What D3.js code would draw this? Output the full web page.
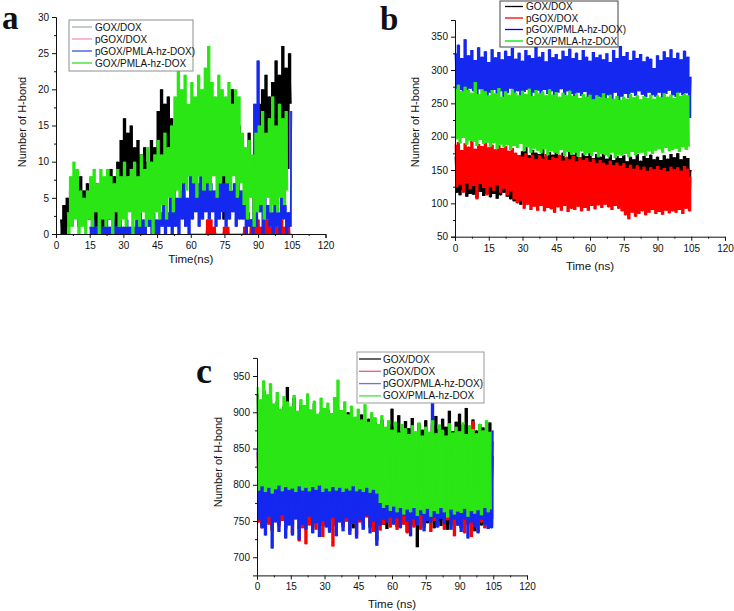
<!DOCTYPE html>
<html><head><meta charset="utf-8">
<script src="https://cdn.jsdelivr.net/npm/d3@7"></script>
<style>
body{margin:0;background:#fff;}
svg{display:block;font-family:"Liberation Sans",Arial,sans-serif;}
</style></head>
<body><svg id="chart" width="734" height="611"></svg>
<script>
// ---------------- DATA ----------------
const seriesNames = ["GOX/DOX", "pGOX/DOX", "pGOX/PMLA-hz-DOX)", "GOX/PMLA-hz-DOX"];
const xTickValues = [0, 15, 30, 45, 60, 75, 90, 105, 120];
const aYTicks = [0, 5, 10, 15, 20, 25, 30];
const bYTicks = [50, 100, 150, 200, 250, 300, 350];
const cYTicks = [700, 750, 800, 850, 900, 950];
const dt = 0.75; // ns between samples
// start times (ns) of each series in panel a: black, red, blue, green
const aStart = [2, 60, 15, 5];

// Panel a (alternating peak / trough samples)
const aBlack = [
 2,0,4,0,5,1,
 6,2,7,3,5,1,8,2,6,3,7,2,
 6,0,5,1,7,0,4,1,6,0,
 7,2,9,3,8,1,10,4,
 13,6,16,5,14,8,15,7,12,5,
 13,4,11,6,12,3,10,5,
 13,7,12,5,
 17,8,20,10,18,9,19,11,16,7,
 14,9,12,8,15,3,13,9,11,8,
 14,9,12,8,16,10,13,4,15,9,
 20,8,14,9,18,10,15,8,13,2,
 16,9,14,8,20,10,12,3,15,9,
 13,7,11,2,14,6,10,0,12,4,
 18,5,20,8,22,6,19,9,21,7,
 24,10,22,8,26,12,23,9,25,18];
const aRed = [
 0,0,0,0,0,0,0,0,0,0,
 2,0,2,0,1,0,0,0,0,0,
 1,0,1,0,0,0,0,0,0,0,
 0,0,1,0,0,0,2,0,1,0,
 2,0,1,0,2,0,2,0,1,0,
 2,0,1,0,2,0,1,0,2,0,0];
const aBlue = [
 1,0,2,0,1,0,2,0,1,0,
 2,0,1,0,2,0,1,0,2,0,
 1,0,2,0,1,0,1,0,2,0,
 3,0,2,0,3,1,2,0,3,0,
 2,0,3,1,4,0,3,1,6,0,
 7,1,5,0,6,2,7,1,5,0,
 10,2,8,3,7,1,8,2,6,3,
 8,2,7,3,6,1,8,2,7,3,
 7,1,8,2,6,3,7,1,8,2,
 6,2,4,0,3,1,2,0,18,1,
 24,3,14,0,5,2,4,1,3,0,
 5,1,3,0,6,2,4,0,3,1,17];
const aGreen = [
 3,0,8,1,10,2,9,0,
 6,1,5,0,6,2,
 8,1,9,3,7,0,9,2,8,1,
 9,2,8,0,7,3,9,1,8,2,
 10,1,8,3,9,0,10,2,8,1,
 11,3,9,1,12,2,10,0,11,3,
 13,2,11,4,14,2,12,5,15,3,
 19,6,23,5,20,7,22,6,18,8,
 21,7,19,5,22,8,20,6,23,7,
 26,6,21,8,19,5,22,7,20,8,
 19,7,21,6,18,8,20,5,19,7,
 14,4,12,2,13,5,11,1,14,3,
 15,4,17,2,14,5,16,3,19,4,
 15,3,18,5,16,4,17,6];

// Panel b
const bBlack = [
 170,116,165,112,172,120,168,110,174,114,
 166,113,171,108,169,117,175,111,167,114,
 170,109,164,114,173,107,168,112,171,116,
 166,110,170,106,163,103,168,101,172,98,
 178,132,185,138,172,130,180,135,176,128,
 174,133,181,129,170,136,177,131,173,127,
 179,134,171,129,176,137,168,130,182,133,
 173,128,177,135,169,131,175,126,171,134,
 176,130,168,127,174,133,170,125,178,131,
 167,129,173,132,165,126,171,130,168,124,
 172,128,163,122,170,131,166,120,174,127,
 164,125,171,118,168,130,173,124,166,132,
 170,133,165,128,172,135,167,130,174,137,
 169,131,175,136,166,129,171,134,168,140,150];
const bRed = [
 188,124,192,128,180,116,190,130,185,121,
 194,126,182,106,189,129,186,123,191,112,
 184,125,188,119,181,127,187,116,183,122,
 186,112,179,118,183,106,176,100,172,104,
 170,92,175,98,168,90,173,95,166,89,
 172,96,167,88,174,93,165,91,170,86,
 168,94,173,89,164,96,170,87,166,92,
 171,90,163,95,169,88,165,93,168,89,
 162,96,167,91,160,97,165,93,161,98,
 158,94,164,90,157,96,161,92,156,88,
 160,82,153,76,158,86,152,80,157,84,
 150,88,155,82,149,86,154,90,151,84,
 156,87,150,83,153,89,148,85,155,88,
 151,86,154,90,149,84,156,92,152,88,140];
const bBlue = [
 325,262,338,270,318,258,346,266,322,272,
 330,268,315,260,334,271,320,265,328,257,
 312,266,331,270,319,262,327,268,316,259,
 329,265,321,272,333,263,317,268,326,260,
 314,267,330,270,322,261,318,266,335,269,
 320,262,327,270,313,264,331,268,319,259,
 324,266,316,271,329,262,321,268,332,264,
 318,258,326,266,315,261,330,267,320,255,
 314,243,327,252,319,260,323,248,316,258,
 325,262,312,255,330,266,318,250,336,260,
 321,264,327,258,315,266,329,261,318,268,
 324,263,313,259,320,266,317,262,303,260,
 322,266,315,258,328,264,319,269,331,262,
 318,260,326,266,316,262,329,265,320,228,290];
const bGreen = [
 272,196,278,190,268,198,275,188,270,194,
 266,192,282,186,264,195,271,189,268,191,
 262,185,270,190,265,182,273,188,260,184,
 268,187,263,180,271,186,266,183,262,189,
 269,178,264,184,272,176,261,182,270,179,
 265,175,268,181,262,172,271,178,263,176,
 267,174,260,180,266,171,262,177,269,173,
 261,176,265,170,258,178,264,172,260,175,
 263,171,256,177,262,169,259,174,265,172,
 258,170,263,176,257,168,261,173,255,171,
 260,174,257,169,264,177,259,172,262,175,
 256,176,261,171,258,178,263,174,257,179,
 262,181,259,176,265,183,260,178,263,180,
 258,182,266,177,261,184,264,180,262,185];

// Panel c
const cBlack = [
 925,755,910,742,930,760,905,748,918,738,
 900,752,915,745,896,758,908,740,935,750,
 902,744,920,756,895,739,910,751,898,746,
 905,753,890,741,912,757,893,748,900,743,
 888,750,903,738,891,755,898,745,886,752,
 895,742,884,756,900,747,889,740,893,753,
 882,749,897,744,885,758,891,741,880,750,
 886,723,879,752,890,745,876,739,884,755,
 905,748,880,742,896,753,874,746,888,735,
 878,750,892,744,870,714,885,752,876,741,
 889,747,872,754,882,740,895,749,877,743,
 891,751,880,738,902,746,874,755,887,744,
 898,740,883,752,906,745,878,749,890,736,
 875,751,884,744,879,748,872,742,886,753,840];
const cRed = [
 845,748,830,740,852,758,838,745,847,736,
 833,755,849,742,836,750,844,738,831,747,
 850,733,839,756,846,722,834,740,851,718,
 837,744,843,751,832,738,848,755,835,728,
 846,745,833,752,849,715,838,743,842,754,
 836,741,850,749,831,736,845,753,839,730,
 844,748,835,739,851,755,832,744,847,735,
 838,752,846,737,833,745,849,756,836,741,
 843,748,831,738,850,754,837,745,845,733,
 839,750,848,741,834,756,842,738,830,747,
 847,752,836,735,885,750,840,742,833,755,
 846,738,838,751,851,744,835,729,843,753,
 837,740,849,733,832,746,845,728,888,752,
 841,735,836,748,850,740,834,752,846,745,860];
const cBlue = [
 850,752,835,740,858,730,842,756,848,712,
 838,748,852,735,830,758,846,726,840,744,
 855,730,832,752,848,724,836,745,851,738,
 843,756,829,733,847,747,835,728,853,750,
 839,741,850,734,833,755,845,729,837,748,
 852,736,841,754,834,731,849,746,838,726,
 844,751,831,738,848,757,836,733,842,749,
 835,716,846,744,833,752,840,748,829,755,
 845,745,838,754,850,740,834,757,848,749,
 842,729,835,752,851,744,839,758,846,736,
 833,750,840,748,915,755,836,741,849,753,
 841,746,832,756,845,738,837,752,850,744,
 838,735,847,752,834,726,843,748,836,741,
 849,733,840,752,834,745,846,739,843,740,875];
const cGreen = [
 935,792,918,798,944,790,925,796,940,788,
 912,794,928,799,905,791,922,797,915,793,
 908,795,924,790,902,798,918,792,910,796,
 926,791,904,797,916,793,898,799,920,790,
 906,795,913,791,899,797,921,792,945,796,
 903,790,915,795,897,792,909,798,894,791,
 905,794,890,790,911,796,887,789,900,793,
 893,788,884,775,896,768,880,772,889,764,
 876,770,887,762,872,768,884,759,878,766,
 870,762,882,768,874,757,886,765,868,760,
 880,767,873,756,889,764,871,760,883,768,
 876,762,868,755,885,766,872,759,880,763,
 874,761,886,767,870,756,882,764,877,760,
 871,765,884,758,875,768,889,762,873,766];

// ---------------- DRAWING ----------------
const svg = d3.select("#chart");
const lineColors = ["#000000", "#ff0000", "#1428f0", "#2ae614"];

function panel(cfg) {
  const g = svg.append("g");
  const x = d3.scaleLinear().domain([0, 120]).range([cfg.x0, cfg.x1]);
  const y = d3.scaleLinear().domain(cfg.yDomain).range([cfg.yBottom, cfg.yTop]);

  // series: filled swing between consecutive samples + the trace itself
  cfg.series.forEach((vals, k) => {
    const t0 = cfg.starts ? cfg.starts[k] : 0;
    const nxt = i => vals[Math.min(i + 1, vals.length - 1)];
    const area = d3.area().curve(d3.curveStepAfter)
      .x((d, i) => x(t0 + i * dt))
      .y0((d, i) => y(Math.min(d, nxt(i))))
      .y1((d, i) => y(Math.max(d, nxt(i))));
    g.append("path").datum(vals).attr("d", area)
      .attr("fill", lineColors[k]).attr("stroke", "none");
    const line = d3.line().x((d, i) => x(t0 + i * dt)).y(d => y(d));
    g.append("path").datum(vals).attr("d", line)
      .attr("fill", "none").attr("stroke", lineColors[k])
      .attr("stroke-width", cfg.sw);
  });

  // axes
  const xMinor = d3.range(7.5, 120, 15);
  const yStep = cfg.yTicks[1] - cfg.yTicks[0];
  const yMinor = cfg.yTicks.map(v => v + yStep / 2).filter(v => v < cfg.yDomain[1]);
  g.append("g").attr("transform", `translate(0,${cfg.yBottom})`)
    .call(d3.axisBottom(x).tickValues(xTickValues).tickSize(4).tickPadding(4).tickFormat(d3.format("d")));
  g.append("g").attr("transform", `translate(0,${cfg.yBottom})`)
    .call(d3.axisBottom(x).tickValues(xMinor).tickSize(2).tickFormat(""))
    .select(".domain").remove();
  g.append("g").attr("transform", `translate(${cfg.x0},0)`)
    .call(d3.axisLeft(y).tickValues(cfg.yTicks).tickSize(4).tickPadding(3).tickFormat(d3.format("d")));
  g.append("g").attr("transform", `translate(${cfg.x0},0)`)
    .call(d3.axisLeft(y).tickValues(yMinor).tickSize(2).tickFormat(""))
    .select(".domain").remove();
  g.selectAll(".tick text").attr("font-size", 10).attr("fill", "#111")
    .attr("font-family", '"Liberation Sans",Arial,sans-serif');
  g.selectAll(".domain, .tick line").attr("stroke", "#111");

  // axis titles
  g.append("text").attr("x", (cfg.x0 + cfg.x1) / 2).attr("y", cfg.xTitleY)
    .attr("text-anchor", "middle").attr("font-size", 11.5).attr("fill", "#111")
    .text(cfg.xTitle);
  g.append("text").attr("transform", `translate(${cfg.yTitleX},${cfg.yTitleCY}) rotate(-90)`)
    .attr("text-anchor", "middle").attr("font-size", 11).attr("fill", "#111")
    .text("Number of H-bond");

  // legend
  const L = cfg.legend;
  g.append("rect").attr("x", L.x).attr("y", L.y).attr("width", L.w).attr("height", L.h)
    .attr("fill", "#fff").attr("stroke", L.stroke).attr("stroke-width", 1);
  seriesNames.forEach((name, k) => {
    const yy = L.y + L.first + k * L.step;
    g.append("line").attr("x1", L.x + L.l0).attr("x2", L.x + L.l1).attr("y1", yy).attr("y2", yy)
      .attr("stroke", L.colors[k]).attr("stroke-width", 1.3);
    g.append("text").attr("x", L.x + L.tx).attr("y", yy).attr("dy", "0.35em")
      .attr("font-size", 10).attr("fill", "#111").text(name);
  });

  // panel letter
  g.append("text").attr("x", cfg.letter[0]).attr("y", cfg.letter[1])
    .attr("font-family", '"Liberation Serif","DejaVu Serif",serif').attr("font-weight", "bold")
    .attr("font-size", cfg.letter[3]).attr("fill", "#111").text(cfg.letter[2]);
}

panel({
  x0: 56, x1: 325.5, yBottom: 234, yTop: 17, yDomain: [0, 30], yTicks: aYTicks,
  series: [aBlack, aRed, aBlue, aGreen], starts: aStart, sw: 0.8,
  xTitle: "Time(ns)", xTitleY: 263, yTitleX: 26, yTitleCY: 122,
  legend: {x: 69, y: 20, w: 124, h: 51, stroke: "#8a9090", first: 7, step: 12, l0: 3, l1: 23, tx: 26,
           colors: ["#a8b0b0", "#ff90b0", "#3a4ee8", "#30e020"]},
  letter: [2, 29, "a", 33]
});
panel({
  x0: 455, x1: 725, yBottom: 236.7, yTop: 20, yDomain: [50, 375], yTicks: bYTicks,
  series: [bBlack, bRed, bBlue, bGreen], sw: 0.8,
  xTitle: "Time (ns)", xTitleY: 270, yTitleX: 419, yTitleCY: 122,
  legend: {x: 500, y: 1, w: 118, h: 46, stroke: "#444", first: 5.5, step: 11.5, l0: 5, l1: 23, tx: 26,
           colors: ["#000", "#ff0000", "#0000ff", "#00e000"]},
  letter: [380, 29.5, "b", 33]
});
panel({
  x0: 257, x1: 527, yBottom: 575.4, yTop: 357.9, yDomain: [675, 975], yTicks: cYTicks,
  series: [cBlack, cRed, cBlue, cGreen], sw: 0.8,
  xTitle: "Time (ns)", xTitleY: 608, yTitleX: 222, yTitleCY: 462,
  legend: {x: 357, y: 352, w: 127, h: 51, stroke: "#999", first: 7, step: 12.3, l0: 2, l1: 24, tx: 26,
           colors: ["#111", "#f25a6a", "#6a70f0", "#44e040"]},
  letter: [196, 383, "c", 36]
});
</script></body></html>
